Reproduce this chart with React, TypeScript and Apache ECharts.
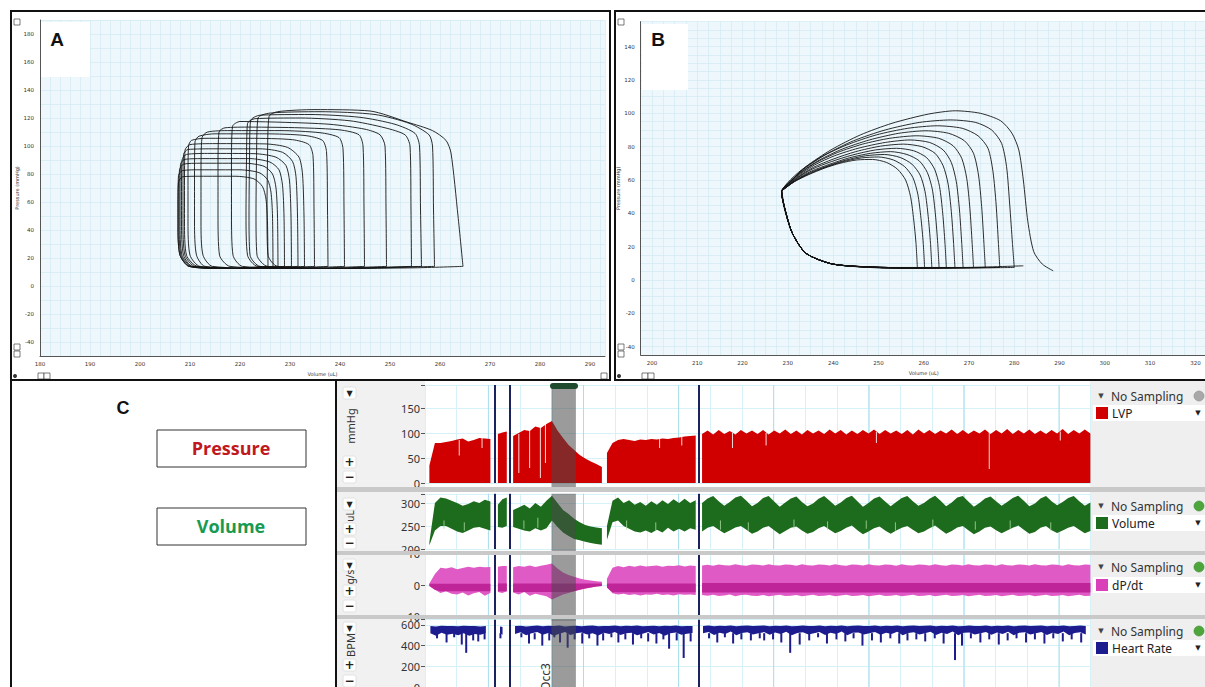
import React, { useEffect, useRef } from "react";
import * as echarts from "echarts";

// ---------- Panel A: pressure-volume loops (Volume uL, Pressure mmHg) ----------
const loopsA: number[][][] = [
  [[264.6,14],[263.6,50],[262.2,95],[261.2,104],[258.5,111],[253.5,117],[246,125],[235,126],[227.5,124.5],[225.8,121],[225.5,90],[225.4,50],[225.6,22],[227.5,14],[240,12.5],[255,13],[264.6,14]],
  [[258.9,14],[258.7,55],[258.5,100],[257.8,108],[254,116],[247,122.5],[236,124.5],[226,123.5],[223.6,120],[223.3,90],[223.2,50],[223.4,22],[225.5,14],[240,12.5],[258.9,14]],
  [[256.3,14],[256.1,55],[255.9,100],[255,109],[251,115.5],[244,120.5],[234,122.5],[224,122],[222.1,118],[221.9,90],[221.8,50],[222,22],[224,14],[238,12.5],[256.3,14]],
  [[254.3,14],[254.2,55],[254,100],[253,108],[249,113],[242,118],[232,120],[223,119.5],[221.5,116],[221.3,90],[221.2,50],[221.5,22],[223.5,14],[238,12.5],[254.3,14]],
  [[249.3,14],[249.2,55],[249,100],[248,108],[245,112],[238,115.5],[228,117],[220,117.5],[218.5,114],[218.3,90],[218.3,50],[218.6,22],[220.5,14],[235,12.5],[249.3,14]],
  [[244.9,14],[244.8,55],[244.6,100],[243.8,108],[240,111.5],[232,113],[222,113.5],[217,113],[215.8,110],[215.6,85],[215.6,50],[215.9,22],[218,14],[232,12.5],[244.9,14]],
  [[240.9,14],[240.8,55],[240.6,98],[239.8,106],[236,109.5],[228,111],[218,111],[213.5,110],[212.4,106],[212.2,80],[212.2,45],[212.6,22],[214.5,14],[228,12.5],[240.9,14]],
  [[237.6,14],[237.5,55],[237.3,96],[236.5,104],[233,107.5],[225,108.7],[215,108.7],[211.8,107],[211,103],[210.9,80],[210.9,45],[211.3,22],[213,14],[225,12.5],[237.6,14]],
  [[234.9,14],[234.8,55],[234.6,93],[233.8,101],[230.5,104.5],[222,105.5],[213,105.5],[210.3,104],[209.7,100],[209.6,75],[209.6,45],[210,22],[212,14],[224,12.5],[234.9,14]],
  [[232.9,14],[232.8,50],[232.5,80],[231.8,92],[229.5,99],[225,101.5],[215,101.7],[210,101],[209,97],[208.9,75],[208.9,45],[209.3,22],[211.5,14],[222,12.5],[232.9,14]],
  [[231.6,14],[231.5,50],[231.2,78],[230.5,89],[228.5,95.5],[224,98],[215,98],[209.6,97.5],[208.7,94],[208.6,70],[208.6,45],[209,22],[211,14],[221,12.5],[231.6,14]],
  [[230.3,14],[230.2,50],[229.9,75],[229.2,86],[227.2,92],[223,94.5],[214,94.7],[209.3,94],[208.4,90],[208.3,70],[208.3,45],[208.7,22],[210.5,14],[220,12.5],[230.3,14]],
  [[228.9,14],[228.8,50],[228.5,72],[227.8,83],[226,88.5],[222,91],[213,91],[209,90.5],[208.1,87],[208,65],[208,45],[208.4,22],[210.3,14],[219,12.5],[228.9,14]],
  [[227.6,14],[227.5,50],[227.2,70],[226.5,80],[224.8,85.5],[221,87.7],[212,87.7],[208.7,87],[207.9,83],[207.8,65],[207.8,45],[208.2,22],[210,14],[218,12.5],[227.6,14]],
  [[226.6,14],[226.5,50],[226.2,67],[225.5,76],[223.8,81],[220,83],[212,83],[208.5,82.5],[207.7,79],[207.6,60],[207.6,40],[208,22],[209.8,14],[217,12.5],[226.6,14]],
  [[225.6,14],[225.5,45],[225.2,62],[224.5,71],[222.8,76.5],[219,78.4],[212,78.4],[208.5,78],[207.7,74],[207.6,55],[207.6,40],[208,22],[209.8,14],[217,12.5],[225.6,14]],
];

// ---------- Panel B: pressure-volume loops ----------
const loopsB: number[][][] = [
  [[288.6,5.5],[286.2,9.5],[284.3,17],[283,35],[282,60],[281,78],[279.5,88],[277,95.5],[272.5,100],[267,101.5],[261,99.5],[253,94],[246,87],[239.5,78],[234,68],[230.5,59],[228.6,53],[229.3,42],[231,28],[234,16],[240,9.5],[252,7.5],[268,7.5],[282,8.5]],
  [[280,7.5],[279.6,22],[279,45],[278.3,68],[277.2,82],[275,90],[271.5,94.5],[266,96],[259,94.5],[251.5,90],[244.5,83.5],[238.5,75.5],[233.5,66.5],[230.3,58.5],[228.7,53.5],[229.4,42],[231,28],[234,16],[240,9.5],[252,7.5],[268,7.2],[280,7.5]],
  [[276.8,7.5],[276.5,22],[276,45],[275.3,65],[274.2,79],[272,86.5],[268.5,91],[263,92.5],[256.5,91],[249.5,87],[243,81],[237.5,74],[233,66],[230,58.5],[228.7,53],[229.4,42],[231,28],[234,16],[240,9.5],[252,7.5],[266,7.2],[276.8,7.5]],
  [[273.6,7.5],[273.3,22],[272.8,44],[272.1,63],[271,76],[269,83.5],[265.5,88],[260.5,89.5],[254.5,88],[248,84],[242,78.5],[237,72],[232.8,64.5],[229.9,57.5],[228.6,53],[229.4,42],[231,28],[234,16],[240,9.5],[252,7.5],[264,7.2],[273.6,7.5]],
  [[271,7.5],[270.7,22],[270.2,43],[269.5,61],[268.4,73],[266.5,80.5],[263.3,85],[258.5,86.5],[252.5,85],[246.5,81.5],[241,76.5],[236.3,70.5],[232.5,63.5],[229.8,57],[228.6,53],[229.4,42],[231,28],[234,16],[240,9.5],[252,7.5],[262,7.2],[271,7.5]],
  [[268.7,7.5],[268.4,22],[267.9,42],[267.2,59],[266.1,70.5],[264.3,78],[261.3,82.5],[257,84],[251.5,82.5],[245.5,79],[240.3,74.5],[235.9,69],[232.3,62.5],[229.7,56.5],[228.6,53],[229.4,42],[231,28],[234,16],[240,9.5],[250,7.5],[260,7.2],[268.7,7.5]],
  [[266.9,7.5],[266.6,22],[266.1,41],[265.4,57.5],[264.3,68.5],[262.5,76],[259.6,80],[255.5,81.5],[250.5,80.3],[245,77],[240,72.5],[235.6,67.5],[232.1,61.5],[229.6,56],[228.6,53],[229.4,42],[231,28],[234,16],[240,9.5],[250,7.5],[259,7.2],[266.9,7.5]],
  [[265,7.5],[264.7,22],[264.2,40],[263.5,56],[262.4,66.5],[260.6,73.5],[257.8,77.5],[254,79],[249.3,78],[244.3,75],[239.6,71],[235.4,66.5],[232,61],[229.5,55.5],[228.6,53],[229.4,42],[231,28],[234,16],[240,9.5],[250,7.5],[258,7.2],[265,7.5]],
  [[263.4,7.5],[263.1,22],[262.6,39],[261.9,54.5],[260.8,64.5],[259,71.5],[256.3,75.3],[252.7,77],[248.3,76],[243.6,73.3],[239.3,69.5],[235.2,65.3],[231.9,60.3],[229.5,55.3],[228.6,53],[229.4,42],[231,28],[234,16],[240,9.5],[250,7.5],[257,7.2],[263.4,7.5]],
  [[261.8,7.5],[261.5,22],[261,38],[260.3,53],[259.2,63],[257.4,69.5],[254.8,73.5],[251.3,75.3],[247.2,74.5],[242.9,72],[238.9,68.5],[235,64.5],[231.8,59.8],[229.4,55],[228.6,53],[229.4,42],[231,28],[234,16],[240,9.5],[250,7.5],[256,7.2],[261.8,7.5]],
  [[260.2,7.5],[259.9,22],[259.4,37],[258.7,51.5],[257.6,61.5],[255.8,68],[253.3,72],[250,73.8],[246.2,73.2],[242.2,71],[238.5,67.8],[234.8,63.8],[231.7,59.5],[229.4,55],[228.6,53],[229.4,42],[231,28],[234,16],[240,9.5],[249,7.5],[255,7.2],[260.2,7.5]],
  [[258.6,7.5],[258.3,22],[257.8,36],[257.1,50],[256,60],[254.2,66.5],[251.8,70.5],[248.7,72.3],[245.2,72],[241.5,70],[238,67],[234.6,63.2],[231.6,59.2],[229.3,55],[228.6,53],[229.4,42],[231,28],[234,16],[240,9.5],[248,7.5],[254,7.2],[258.6,7.5]],
];

// ---------- Panel C: recorded traces (time in chart units, sampled segments) ----------
const traceStart = [0.69, 11.5, 13.9, 28.7, 43.7];
const traceStep = [0.875, 0.7, 0.875, 0.875, 0.875];

const lvpUpper = [
  [35, 80, 80, 82, 84, 87, 89, 83, 86, 90, 89, 88],
  [98, 101, 103],
  [94, 100, 106, 104, 113, 110, 118, 124, 105, 90, 76, 66, 56, 49, 43, 38, 32],
  [60, 80, 86, 88, 86, 84, 87, 86, 88, 87, 89, 88, 90, 91, 93, 94, 95],
  [98,105,97,106,98,104,97,106,99,105,98,106,97,105,99,107,98,105,97,106,99,105,98,107,99,106,97,105,98,106,99,107,98,106,99,105,98,106,97,107,99,106,98,105,99,107,98,106,98,105,99,107,98,106,99,108,98,106,99,107,98,105,98,106,99,108,98,106,99,107,99],
];
// pressure drop-outs: [time, from mmHg, to mmHg]
const lvpDropouts = [
  [5.4, 86, 55], [9.0, 90, 70], [14.8, 98, 20], [16.5, 106, 30], [18.2, 114, 10], [19.0, 118, 40],
  [37.0, 88, 70], [40.5, 92, 75], [48.5, 100, 70], [53.8, 100, 75], [71.2, 102, 80], [89.0, 103, 28], [100.2, 103, 85],
];

const volumeUpper = [
  [215, 300, 312, 310, 305, 300, 294, 298, 304, 300, 307, 303],
  [296, 308, 312],
  [285, 290, 296, 288, 300, 292, 305, 316, 300, 285, 276, 266, 258, 252, 249, 247, 245],
  [250, 305, 312, 300, 306, 296, 302, 294, 304, 296, 306, 298, 308, 300, 309, 300, 306],
  [300,310,315,304,294,302,312,316,305,293,300,311,315,303,292,301,310,314,302,293,299,309,315,305,294,301,311,316,304,292,300,310,314,303,293,302,311,315,304,294,300,309,316,305,293,301,312,315,303,292,300,310,314,304,294,302,311,316,305,293,299,310,315,304,295,302,311,315,304,294,301],
];
const volumeLower = [
  [208, 240, 250, 250, 244, 238, 235, 240, 246, 248, 244, 240],
  [248, 246, 250],
  [248, 244, 240, 238, 245, 240, 245, 262, 248, 236, 228, 222, 219, 216, 213, 211, 209],
  [220, 258, 262, 250, 244, 238, 236, 240, 235, 242, 236, 246, 238, 244, 238, 245, 242],
  [238,246,250,242,234,240,247,250,242,233,238,246,250,241,232,239,246,249,240,233,237,245,250,242,234,239,246,251,241,232,238,245,249,240,233,240,246,250,242,234,238,245,251,242,233,239,247,250,241,232,238,246,249,241,234,240,246,251,242,233,237,246,250,241,235,240,246,250,242,234,239],
];
// pale stripes inside the volume trace: [time, from uL, to uL]
const volumeStripes = [
  [3.0, 262, 244], [6.2, 258, 240], [15.6, 262, 244], [17.8, 268, 246], [31.8, 262, 242], [36.4, 258, 240],
  [46.6, 262, 242], [51.0, 258, 240], [58.2, 264, 244], [63.5, 260, 242], [69.6, 262, 244], [74.2, 258, 240],
  [80.1, 264, 244], [86.8, 260, 242], [92.3, 262, 244], [98.7, 258, 240],
];

const dpdtUpper = [
  [0.5, 3.5, 5.5, 5.2, 5.6, 5.0, 5.4, 5.8, 5.5, 5.8, 5.6, 5.7],
  [5.8, 6.0, 6.0],
  [5.6, 6.0, 5.8, 6.2, 5.7, 6.1, 6.4, 6.8, 5.2, 4.0, 3.2, 2.6, 2.1, 1.7, 1.4, 1.2, 1.0],
  [2.0, 5.5, 6.0, 5.6, 6.1, 5.8, 6.2, 5.9, 6.0, 6.2, 5.8, 6.1, 6.0, 6.3, 5.9, 6.2, 6.0],
  [6.2,6.4,6.1,6.5,6.3,6.2,6.6,6.3,6.1,6.5,6.4,6.2,6.6,6.3,6.2,6.5,6.4,6.1,6.6,6.3,6.2,6.5,6.4,6.2,6.6,6.3,6.1,6.5,6.4,6.2,6.6,6.3,6.2,6.5,6.4,6.1,6.6,6.3,6.2,6.5,6.4,6.2,6.6,6.3,6.1,6.5,6.4,6.2,6.6,6.3,6.2,6.5,6.4,6.1,6.6,6.3,6.2,6.5,6.4,6.2,6.6,6.3,6.2,6.5,6.4,6.1,6.6,6.3,6.2,6.5,6.4],
];
const dpdtLower = [
  [-0.3, -1.5, -2.5, -2.0, -2.8, -3.0, -2.4, -3.3, -2.6, -2.2, -3.4, -2.5],
  [-2.2, -2.5, -2.0],
  [-2.4, -3.0, -2.2, -3.4, -2.8, -3.2, -3.6, -4.6, -3.8, -3.0, -2.5, -2.0, -1.5, -1.1, -0.8, -0.5, -0.3],
  [-0.8, -2.6, -3.0, -2.8, -3.2, -2.9, -3.3, -3.0, -3.1, -2.8, -3.2, -3.0, -3.3, -2.9, -3.1, -3.0, -3.2],
  [-3.2,-3.4,-3.1,-3.5,-3.3,-3.0,-3.6,-3.2,-3.1,-3.4,-3.5,-3.2,-3.6,-3.3,-3.1,-3.5,-3.4,-3.2,-3.6,-3.3,-3.1,-3.5,-3.4,-3.2,-3.6,-3.3,-3.1,-3.5,-3.4,-3.2,-3.6,-3.3,-3.1,-3.5,-3.4,-3.2,-3.6,-3.3,-3.1,-3.5,-3.4,-3.2,-3.6,-3.3,-3.1,-3.5,-3.4,-3.2,-3.6,-3.3,-3.1,-3.5,-3.4,-3.2,-3.6,-3.3,-3.1,-3.5,-3.4,-3.2,-3.6,-3.3,-3.1,-3.5,-3.4,-3.2,-3.6,-3.3,-3.1,-3.5,-3.4],
];
// darker core of the dP/dt trace: [top, bottom] per segment
const dpdtCore = [[0.4, -2.0], [0.5, -2.0], [0.5, -2.2], [0.5, -2.3], [0.6, -2.4]];

const hrStart = [0.85, 11.83, 14.2, 43.85];
const hrStep = [0.875, 0.4, 0.875, 0.875];
const hrUpper = [
  [590,585,592,588,590,586,592,588,590,585,588],
  [585, 580],
  [588,592,585,590,594,586,591,589,593,585,590,592,587,591,594,586,590,588,593,587,591,589,594,586,590,592,587,591,589,593,586,590,588],
  [590,594,587,592,589,595,586,591,593,588,591,594,586,592,590,595,587,590,593,588,589,594,587,592,590,595,586,591,593,589,590,593,587,592,589,595,586,591,594,588,591,594,586,592,590,594,587,590,593,588,590,594,587,592,589,595,586,591,593,588,591,593,586,592,590,595,587,590,593,588],
];
const hrLower = [
  [520,495,525,505,515,500,520,495,512,505,518],
  [520, 505],
  [512,528,500,518,530,505,522,495,515,530,502,520,526,508,518,498,524,512,530,503,518,524,500,515,530,506,522,496,518,526,505,515,522],
  [518,532,503,524,512,535,500,522,528,507,520,530,505,526,513,533,501,522,529,508,518,532,502,524,511,536,499,523,527,506,519,531,504,525,513,534,500,522,528,507,518,533,503,524,512,535,501,523,527,508,520,530,504,526,512,534,500,524,528,507,518,532,503,525,513,535,501,522,529,506],
];
// heart-rate dips: [time, BPM]
const hrSpikes = [
  [1.9,470],[3.4,430],[4.6,480],[5.8,410],[6.5,330],[7.6,450],[8.4,440],[9.4,460],[11.9,470],
  [15.2,480],[16.4,420],[17.3,460],[18.5,400],[19.6,450],[20.4,480],[21.3,430],[22.5,380],[23.6,460],[24.8,420],[25.9,470],[27.2,400],[28.1,450],[29.4,480],[30.5,430],[31.6,460],[32.8,410],[34.1,470],[35.2,440],[36.5,420],[37.6,460],[38.5,370],[39.7,450],[40.8,280],[41.9,440],
  [44.8,470],[46.1,430],[47.3,480],[48.6,420],[49.9,460],[51.4,450],[52.8,470],[53.5,450],[54.9,460],[56.2,430],[57.6,330],[59.1,410],[60.6,450],[62.0,480],[63.4,420],[64.9,460],[66.3,440],[67.6,470],[69.0,400],[70.5,450],[71.9,430],[73.4,470],[74.8,420],[76.1,450],[77.5,460],[78.9,440],[80.4,470],[81.8,420],[83.6,260],[84.7,400],[86.1,470],[87.6,430],[89.0,460],[90.5,410],[91.9,450],[93.3,470],[94.8,430],[96.2,460],[97.7,420],[99.1,470],[100.6,440],[102.0,460],[103.5,430],
];

const eventMarks = [11.04, 13.41, 43.22];
const occlusionSpan = [19.95, 23.8];
const majorGridT = [10, 25, 40, 55, 70, 85, 100];

const channelNames = ["LVP", "Volume", "dP/dt", "Heart Rate"];
const channelUnits = ["mmHg", "uL", "g/s", "BPM"];
const channelColors = ["#d10000", "#1d6b1d", "#d93fb8", "#1c1c8e"];

function bandSeries(gi: number, starts: number[], steps: number[], upper: number[][], lower: number[][] | null, color: string, baseline: number, z = 3) {
  return {
    type: "custom", xAxisIndex: gi, yAxisIndex: gi, z, silent: true,
    data: upper.map((_, i) => [starts[i], baseline]),
    renderItem: (params: any, api: any) => {
      const i = params.dataIndex;
      const t0 = starts[i];
      const dt = steps[i];
      const up = upper[i];
      const top = up.map((v, k) => api.coord([t0 + k * dt, v]));
      let bottom: number[][];
      if (lower) bottom = lower[i].map((v, k) => api.coord([t0 + k * dt, v])).reverse();
      else bottom = [api.coord([t0 + (up.length - 1) * dt, baseline]), api.coord([t0, baseline])];
      return { type: "polygon", shape: { points: top.concat(bottom) }, style: { fill: color } };
    },
  };
}

function coreSeries(gi: number) {
  return {
    type: "custom", xAxisIndex: gi, yAxisIndex: gi, z: 4, silent: true,
    data: dpdtUpper.map((_, i) => [traceStart[i], 0]),
    renderItem: (params: any, api: any) => {
      const i = params.dataIndex;
      const t0 = traceStart[i], dt = traceStep[i];
      const [ct, cb] = dpdtCore[i];
      const top = dpdtUpper[i].map((v, k) => api.coord([t0 + k * dt, Math.min(v, ct)]));
      const bot = dpdtLower[i].map((v, k) => api.coord([t0 + k * dt, Math.max(v, cb)])).reverse();
      return { type: "polygon", shape: { points: top.concat(bot) }, style: { fill: "#bf2599" } };
    },
  };
}

function segmentLines(gi: number, items: number[][], color: string, width: number, z: number) {
  return {
    type: "custom", xAxisIndex: gi, yAxisIndex: gi, z, silent: true,
    data: items,
    renderItem: (params: any, api: any) => {
      const p1 = api.coord([api.value(0), api.value(1)]);
      const p2 = api.coord([api.value(0), api.value(2)]);
      return { type: "line", shape: { x1: p1[0], y1: p1[1], x2: p2[0], y2: p2[1] }, style: { stroke: color, lineWidth: width } };
    },
  };
}

function vLines(gi: number, ts: number[], color: string, width: number, z: number, yv: number) {
  return {
    type: "custom", xAxisIndex: gi, yAxisIndex: gi, z, silent: true,
    data: ts.map((t) => [t, yv]),
    renderItem: (params: any, api: any) => {
      const cs = params.coordSys;
      const x = api.coord([api.value(0), yv])[0];
      return { type: "line", shape: { x1: x, y1: cs.y, x2: x, y2: cs.y + cs.height }, style: { stroke: color, lineWidth: width } };
    },
  };
}

function occlusionBand(gi: number, yv: number) {
  return {
    type: "custom", xAxisIndex: gi, yAxisIndex: gi, z: 5, silent: true,
    data: [[occlusionSpan[0], yv, occlusionSpan[1]]],
    renderItem: (params: any, api: any) => {
      const cs = params.coordSys;
      const x0 = api.coord([api.value(0), yv])[0];
      const x1 = api.coord([api.value(2), yv])[0];
      return { type: "rect", shape: { x: x0, y: cs.y, width: x1 - x0, height: cs.height + 4 }, style: { fill: "rgba(72,72,72,0.55)" } };
    },
  };
}

const tinyFont = "DejaVu Sans";

function pvAxes(gi: number, xmin: number, xmax: number, xint: number, ymin: number, ymax: number, yint: number) {
  const x = {
    gridIndex: gi, type: "value", min: xmin, max: xmax, interval: xint,
    name: "Volume (uL)", nameLocation: "middle", nameGap: 15,
    nameTextStyle: { fontSize: 5, color: "#333", fontFamily: tinyFont },
    axisLine: { show: true, onZero: false, lineStyle: { color: "#555", width: 1 } },
    axisTick: { show: false },
    axisLabel: { fontSize: 5.5, color: "#333", fontFamily: tinyFont, margin: 5, formatter: (v: number) => (v % 10 === 0 ? String(v) : "") },
    splitLine: { show: true, lineStyle: { color: "#d3eaf2", width: 0.7 } },
  };
  const y = {
    gridIndex: gi, type: "value", min: ymin, max: ymax, interval: yint,
    name: "Pressure (mmHg)", nameLocation: "middle", nameGap: 19,
    nameTextStyle: { fontSize: 5, color: "#333", fontFamily: tinyFont },
    axisLine: { show: true, onZero: false, lineStyle: { color: "#555", width: 1 } },
    axisTick: { show: false },
    axisLabel: { fontSize: 5.5, color: "#333", fontFamily: tinyFont, margin: 6, formatter: (v: number) => (v % 20 === 0 ? String(v) : "") },
    splitLine: { show: true, lineStyle: { color: "#d3eaf2", width: 0.7 } },
  };
  return [x, y];
}

function cX(gi: number) {
  return {
    gridIndex: gi, type: "value", min: 0, max: 105, interval: 5,
    axisLabel: { show: false }, axisLine: { show: false }, axisTick: { show: false },
    splitLine: { show: true, lineStyle: { color: "#d6f1f8", width: 1 } },
  };
}
function cY(gi: number, min: number, max: number, interval: number) {
  return {
    gridIndex: gi, type: "value", min, max, interval,
    axisLine: { show: false },
    axisTick: { show: true, length: 4, lineStyle: { color: "#555" } },
    axisLabel: { color: "#333", fontSize: 11, fontFamily: "Noto Sans", margin: 5, formatter: (v: number) => ((v - min) % interval === 0 ? String(v) : "") },
    splitLine: { show: true, lineStyle: { color: "#d6f1f8", width: 1 } },
  };
}

function buildGraphics() {
  const g: any[] = [];
  g.push({ type: "rect", z: -1, shape: { x: 337, y: 381, width: 88, height: 306 }, style: { fill: "#f1f1f1" } });
  g.push({ type: "rect", z: -1, shape: { x: 1090, y: 381, width: 115, height: 306 }, style: { fill: "#efefef" } });
  g.push({ type: "rect", z: 10, shape: { x: 41, y: 22, width: 49, height: 55 }, style: { fill: "#ffffff" } });
  g.push({ type: "text", z: 11, x: 57, y: 39, style: { text: "A", font: "bold 19px 'Liberation Sans'", fill: "#111", align: "center", verticalAlign: "middle" } });
  g.push({ type: "rect", z: 10, shape: { x: 642, y: 24, width: 46, height: 66 }, style: { fill: "#ffffff" } });
  g.push({ type: "text", z: 11, x: 658, y: 39, style: { text: "B", font: "bold 19px 'Liberation Sans'", fill: "#111", align: "center", verticalAlign: "middle" } });
  g.push({ type: "rect", z: 50, shape: { x: 11, y: 11, width: 599, height: 369 }, style: { fill: "none", stroke: "#111", lineWidth: 2 } });
  g.push({ type: "rect", z: 50, shape: { x: 615, y: 11, width: 595, height: 369 }, style: { fill: "none", stroke: "#111", lineWidth: 2 } });
  g.push({ type: "line", z: 50, shape: { x1: 11, y1: 380, x2: 11, y2: 687 }, style: { stroke: "#111", lineWidth: 2 } });
  g.push({ type: "line", z: 50, shape: { x1: 336, y1: 380, x2: 336, y2: 687 }, style: { stroke: "#111", lineWidth: 2 } });
  [0, 604].forEach((dx) => {
    [[14, 19], [14, 344], [14, 351], [38, 373], [44, 373]].forEach(([x, y]) => {
      g.push({ type: "rect", z: 12, shape: { x: x + dx, y, width: 6, height: 6 }, style: { fill: "#fff", stroke: "#444", lineWidth: 0.7 } });
    });
    g.push({ type: "circle", z: 12, shape: { cx: 15 + dx, cy: 376, r: 2 }, style: { fill: "#333" } });
  });
  g.push({ type: "rect", z: 12, shape: { x: 601, y: 373, width: 6, height: 6 }, style: { fill: "#fff", stroke: "#444", lineWidth: 0.7 } });
  g.push({ type: "text", x: 123, y: 408, style: { text: "C", font: "bold 18px 'Liberation Sans'", fill: "#111", align: "center", verticalAlign: "middle" } });
  g.push({ type: "rect", shape: { x: 157, y: 430, width: 149, height: 37 }, style: { fill: "#fff", stroke: "#333", lineWidth: 1 } });
  g.push({ type: "text", x: 231, y: 448, style: { text: "Pressure", font: "bold 18px 'Open Sans'", fill: "#c0181c", align: "center", verticalAlign: "middle" } });
  g.push({ type: "rect", shape: { x: 157, y: 508, width: 149, height: 37 }, style: { fill: "#fff", stroke: "#333", lineWidth: 1 } });
  g.push({ type: "text", x: 231, y: 526, style: { text: "Volume", font: "bold 18px 'Open Sans'", fill: "#189a52", align: "center", verticalAlign: "middle" } });
  [[487, 5], [551, 4], [615, 4]].forEach(([y, h]) => {
    g.push({ type: "rect", z: 20, shape: { x: 337, y, width: 868, height: h }, style: { fill: "#c9c9c9" } });
  });
  const ctrl = [
    { down: 393, unit: 426, plus: 462, minus: 477 },
    { down: 504, unit: 516, plus: 529, minus: 543 },
    { down: 565, unit: 577, plus: 591, minus: 606 },
    { down: 628, unit: 645, plus: 665, minus: 681 },
  ];
  ctrl.forEach((c, i) => {
    [[c.down, "▼", 8], [c.plus, "+", 12], [c.minus, "−", 12]].forEach(([y, glyph, fs]: any) => {
      g.push({ type: "rect", z: 21, shape: { x: 343, y: y - 6, width: 13, height: 12, r: 2 }, style: { fill: "#ffffff", stroke: "#dddddd", lineWidth: 0.8 } });
      g.push({ type: "text", z: 22, x: 349.5, y, style: { text: glyph, font: `bold ${fs}px 'DejaVu Sans'`, fill: "#222", align: "center", verticalAlign: "middle" } });
    });
    g.push({ type: "text", z: 22, x: 350, y: c.unit, rotation: Math.PI / 2, style: { text: channelUnits[i], font: (i === 1 || i === 2 ? "10px" : "11px") + " 'Noto Sans'", fill: "#333", align: "center", verticalAlign: "middle" } });
  });
  const rows = [[396, 413], [506, 523], [567, 585], [631, 648]];
  rows.forEach(([r1, r2], i) => {
    g.push({ type: "text", z: 22, x: 1101, y: r1, style: { text: "▼", font: "7px 'DejaVu Sans'", fill: "#444", align: "center", verticalAlign: "middle" } });
    g.push({ type: "text", z: 22, x: 1111, y: r1, style: { text: "No Sampling", font: "12px 'Noto Sans'", fill: "#333", align: "left", verticalAlign: "middle" } });
    g.push({ type: "circle", z: 22, shape: { cx: 1199, cy: r1, r: 5 }, style: { fill: i === 0 ? "#a8a8a8" : "#4ea53c", stroke: i === 0 ? "#8a8a8a" : "#3a8a2c", lineWidth: 0.6 } });
    g.push({ type: "rect", z: 21, shape: { x: 1093, y: r2 - 8, width: 112, height: 16 }, style: { fill: "#ffffff" } });
    g.push({ type: "rect", z: 22, shape: { x: 1096, y: r2 - 6, width: 12, height: 12 }, style: { fill: channelColors[i] } });
    g.push({ type: "text", z: 22, x: 1112, y: r2, style: { text: channelNames[i], font: "12px 'Noto Sans'", fill: "#222", align: "left", verticalAlign: "middle" } });
    g.push({ type: "text", z: 22, x: 1198, y: r2, style: { text: "▼", font: "7px 'DejaVu Sans'", fill: "#222", align: "center", verticalAlign: "middle" } });
  });
  g.push({ type: "rect", z: 30, shape: { x: 550, y: 383, width: 28, height: 6, r: 3 }, style: { fill: "#1f4a2c" } });
  g.push({ type: "text", z: 30, x: 545, y: 677, rotation: Math.PI / 2, style: { text: "Occ3", font: "12px 'Noto Sans'", fill: "#333", align: "center", verticalAlign: "middle" } });
  return g;
}

function buildOption() {
  const [ax, ay] = pvAxes(0, 180, 293, 2, -50, 190, 10);
  const [bx, by] = pvAxes(1, 197.5, 322.5, 2.5, -45, 155, 5);
  const gridBase = { show: false, containLabel: false, outerBoundsMode: "none" };
  const pvGrid = { show: true, backgroundColor: "#eef8fc", borderWidth: 0, containLabel: false, outerBoundsMode: "none" };
  const series: any[] = [];
  loopsA.forEach((pts) => {
    series.push({ type: "line", xAxisIndex: 0, yAxisIndex: 0, data: pts, showSymbol: false, smooth: 0.25, silent: true, z: 3, lineStyle: { color: "#151515", width: 0.9 } });
  });
  loopsB.forEach((pts) => {
    series.push({ type: "line", xAxisIndex: 1, yAxisIndex: 1, data: pts, showSymbol: false, smooth: 0.25, silent: true, z: 3, lineStyle: { color: "#151515", width: 0.9 } });
  });
  const mins = [0, 200, -10, 0];
  [2, 3, 4, 5].forEach((gi, k) => series.push(vLines(gi, majorGridT, "#a9deec", 1, 1, mins[k])));
  series.push(bandSeries(2, traceStart, traceStep, lvpUpper, null, channelColors[0], 0));
  series.push(segmentLines(2, lvpDropouts, "rgba(255,255,255,0.85)", 1, 4));
  series.push(bandSeries(3, traceStart, traceStep, volumeUpper, volumeLower, channelColors[1], 200));
  series.push(segmentLines(3, volumeStripes, "rgba(170,220,160,0.8)", 1, 4));
  series.push(bandSeries(4, traceStart, traceStep, dpdtUpper, dpdtLower, "#e05ac6", 0));
  series.push(coreSeries(4));
  series.push(bandSeries(5, hrStart, hrStep, hrUpper, hrLower, channelColors[3], 500));
  series.push(segmentLines(5, hrSpikes.map(([t, v]) => [t, 520, v]), channelColors[3], 2, 4));
  [2, 3, 4, 5].forEach((gi, k) => {
    series.push(occlusionBand(gi, mins[k]));
    series.push(vLines(gi, eventMarks, "#1b2260", 2, 6, mins[k]));
  });
  return {
    animation: false,
    backgroundColor: "#ffffff",
    grid: [
      { ...pvGrid, left: 40, top: 20, width: 565, height: 336 },
      { ...pvGrid, left: 640.7, top: 21.6, width: 566, height: 333.4 },
      { ...gridBase, left: 425, top: 385, width: 665.7, height: 98 },
      { ...gridBase, left: 425, top: 493.8, width: 665.7, height: 55.2 },
      { ...gridBase, left: 425, top: 553.5, width: 665.7, height: 63 },
      { ...gridBase, left: 425, top: 619.7, width: 665.7, height: 67.3 },
    ],
    xAxis: [ax, bx, cX(2), cX(3), cX(4), cX(5)],
    yAxis: [ay, by, cY(2, 0, 196, 50), cY(3, 200, 320, 50), cY(4, -10, 10, 10), cY(5, 0, 650, 200)],
    series,
    graphic: { elements: buildGraphics() },
  };
}

export default function App() {
  const ref = useRef<HTMLDivElement>(null);
  useEffect(() => {
    if (!ref.current) return;
    const chart = echarts.init(ref.current, null, { renderer: "svg" });
    chart.setOption(buildOption() as any);
    return () => chart.dispose();
  }, []);
  return (
    <div
      ref={ref}
      style={{ position: "fixed", left: 0, top: 0, width: 1205, height: 687, background: "#ffffff" }}
    />
  );
}
